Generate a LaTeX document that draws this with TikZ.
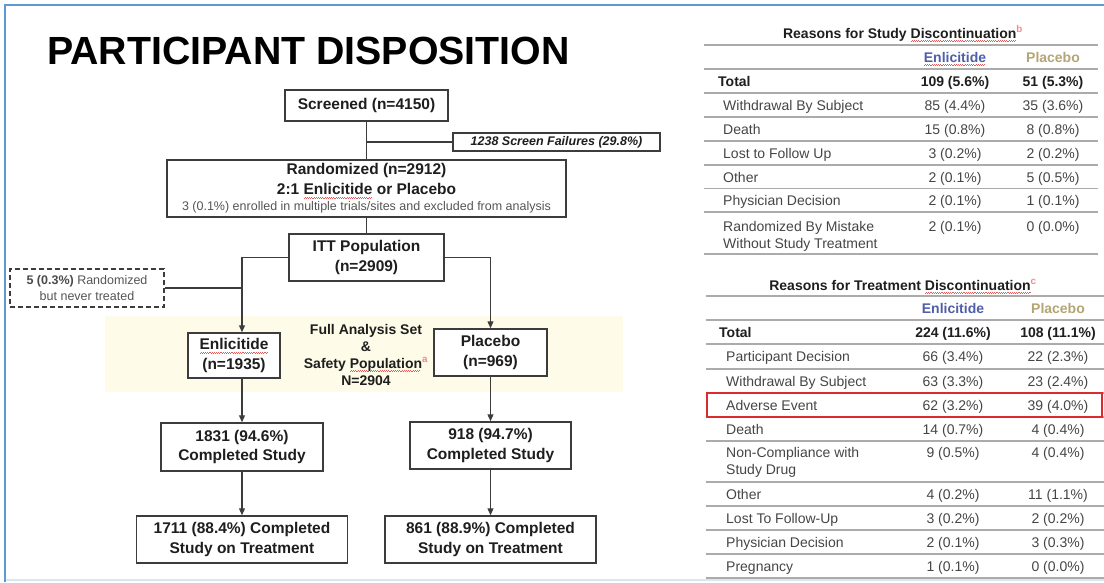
\documentclass[tikz,border=0pt]{standalone}
\usepackage{fontspec}
\setmainfont{Liberation Sans}
\usetikzlibrary{arrows.meta, positioning}

\definecolor{frameblue}{HTML}{5B9BD5}
\definecolor{framelight}{HTML}{D6E6F5}
\definecolor{ink}{HTML}{1E1E1E}
\definecolor{boxline}{HTML}{3C3C3C}
\definecolor{subgray}{HTML}{555555}
\definecolor{tabtext}{HTML}{454545}
\definecolor{rulegray}{HTML}{ABABAB}
\definecolor{bandyellow}{HTML}{FEFCE8}
\definecolor{enlblue}{HTML}{4F5EA8}
\definecolor{platan}{HTML}{B3A575}
\definecolor{alertred}{HTML}{DD2A2E}
\definecolor{squigred}{HTML}{E65A5A}

% red wavy spell-check underline (made of small rules)
\newbox\squigbox
\newcommand\squig[1]{\setbox\squigbox\hbox{#1}\rlap{\color{squigred}\leaders\hbox{\rule[-3.9pt]{1.1pt}{0.7pt}\rule[-3.1pt]{1.1pt}{0.7pt}}\hskip\wd\squigbox}\box\squigbox}

\tikzset{
    box/.style={rectangle, draw=boxline, line width=1.5pt, fill=white, inner sep=0pt, align=center, text=ink, font=\fontsize{15.5}{19.5}\selectfont\bfseries},
    failbox/.style={box, font=\fontsize{12.5}{14}\selectfont\bfseries\itshape},
    dashbox/.style={box, dash pattern=on 5pt off 3pt, text=subgray, font=\fontsize{12.5}{16}\selectfont},
    note/.style={align=center, inner sep=0pt, text=ink, font=\fontsize{14}{17}\selectfont\bfseries},
    arrow/.style={-{Triangle[length=7pt, width=6pt]}, line width=1.2pt, draw=boxline},
    line/.style={line width=1.2pt, draw=boxline},
    tabtitle/.style={anchor=base, inner sep=0pt, text=ink, font=\fontsize{14}{17}\selectfont\bfseries},
    tabhead/.style={anchor=base, inner sep=0pt, font=\fontsize{14}{17}\selectfont\bfseries},
    rowlabel/.style={anchor=base west, inner sep=0pt, align=left, text=tabtext, font=\fontsize{14}{17}\selectfont},
    cell/.style={anchor=base, inner sep=0pt, text=tabtext, font=\fontsize{14}{17}\selectfont},
    totalrow/.style={text=ink, font=\fontsize{14}{17}\selectfont\bfseries},
    rule/.style={draw=rulegray, line width=1.4pt},
    redbox/.style={draw=alertred, line width=2.4pt}
}

\begin{document}
\begin{tikzpicture}[x=1pt, y=-1pt]
    \useasboundingbox (0,0) rectangle (1104,582);
    % slide frame and highlight band
    \draw[framelight, line width=1.5pt] (5,580) -- (1104,580);
    \draw[frameblue, line width=2pt] (5,582) -- (5,5) -- (1104,5);
    \fill[bandyellow] (105,316) rectangle (623,392);

    % Title
    \node[anchor=base west, inner sep=0pt, text=black, font=\fontsize{39.3}{41}\selectfont\bfseries] (title) at (47,64) {PARTICIPANT DISPOSITION};

    % Flow chart (left)
    \node[box, minimum width=163pt, minimum height=31pt] (scr) at (366.5,105.5) {Screened (n=4150)};
    \node[failbox, minimum width=207pt, minimum height=18pt] (fail) at (556.5,142) {1238 Screen Failures (29.8\%)};
    \node[box, minimum width=399pt, minimum height=57pt] (rand) at (366.5,188.5)
    {Randomized (n=2912) \\ 2:1 \squig{Enlicitide} or Placebo \\[-3pt]
    {\fontsize{12.5}{14}\selectfont\mdseries\color{subgray}3 (0.1\%) enrolled in multiple trials/sites and excluded from analysis}};
    \node[box, minimum width=155pt, minimum height=47pt] (itt) at (366.5,257.5) {ITT Population \\ (n=2909)};
    \node[dashbox, minimum width=154pt, minimum height=38pt] (never) at (87,288) {{\bfseries\color{ink!80}5 (0.3\%)} Randomized \\ but never treated};
    \node[box, minimum width=92pt, minimum height=45pt] (enl) at (234,355.5) {\squig{Enlicitide} \\ (n=1935)};
    \node[box, minimum width=113pt, minimum height=47pt] (pla) at (490.5,352.5) {Placebo \\ (n=969)};
    \node[note] (fas) at (366,354.5) {Full Analysis Set \\ \& \\ Safety \squig{Population}\textsuperscript{\color{squigred!70}a} \\ N=2904};
    \node[box, minimum width=162pt, minimum height=48pt] (enlcomp) at (242,447) {1831 (94.6\%) \\ Completed Study};
    \node[box, minimum width=161pt, minimum height=47pt] (placomp) at (490.5,445.5) {918 (94.7\%) \\ Completed Study};
    \node[box, minimum width=211pt, minimum height=47pt] (enltrt) at (242,539.5) {1711 (88.4\%) Completed \\ Study on Treatment};
    \node[box, minimum width=211pt, minimum height=47pt] (platrt) at (490.5,539.5) {861 (88.9\%) Completed \\ Study on Treatment};

    \draw[line] (scr) -- (rand);
    \draw[line] (scr.south |- fail.west) -- (fail.west);
    \draw[line] (rand) -- (itt);
    \draw[arrow] (itt.west) -| ([xshift=8pt]enl.north);
    \draw[arrow] (itt.east) -| (pla.north);
    \draw[line] (never.east) -- ([xshift=8pt]enl.north |- never.east);
    \draw[arrow] ([xshift=8pt]enl.south) -- (enlcomp.north);
    \draw[arrow] (enlcomp) -- (enltrt);
    \draw[arrow] (pla) -- (placomp);
    \draw[arrow] (placomp) -- (platrt);

    % Table: study discontinuation (top right)
    \foreach \y in {45,69,93,117,141,165,188.5,212,254}
        \draw[rule] (704,\y) -- (1098,\y);
    \node[tabtitle] (t1title) at (903,38) {Reasons for Study \squig{Discontinuation}\textsuperscript{\color{squigred!70}b}};
    \node[tabhead, text=enlblue] (t1enl) at (955,62) {\squig{Enlicitide}};
    \node[tabhead, text=platan] (t1pla) at (1053,62) {Placebo};
    \node[rowlabel, totalrow] (t1tot) at (718,86) {Total};
    \node[cell, totalrow] (t1tote) at (955,86) {109 (5.6\%)};
    \node[cell, totalrow] (t1totp) at (1053,86) {51 (5.3\%)};
    \node[rowlabel] (t1wd) at (723,110) {Withdrawal By Subject};
    \node[cell] (t1wde) at (955,110) {85 (4.4\%)};
    \node[cell] (t1wdp) at (1053,110) {35 (3.6\%)};
    \node[rowlabel] (t1dth) at (723,134) {Death};
    \node[cell] (t1dthe) at (955,134) {15 (0.8\%)};
    \node[cell] (t1dthp) at (1053,134) {8 (0.8\%)};
    \node[rowlabel] (t1lost) at (723,158) {Lost to Follow Up};
    \node[cell] (t1loste) at (955,158) {3 (0.2\%)};
    \node[cell] (t1lostp) at (1053,158) {2 (0.2\%)};
    \node[rowlabel] (t1oth) at (723,182) {Other};
    \node[cell] (t1othe) at (955,182) {2 (0.1\%)};
    \node[cell] (t1othp) at (1053,182) {5 (0.5\%)};
    \node[rowlabel] (t1phy) at (723,205.5) {Physician Decision};
    \node[cell] (t1phye) at (955,205.5) {2 (0.1\%)};
    \node[cell] (t1phyp) at (1053,205.5) {1 (0.1\%)};
    \node[rowlabel] (t1mis) at (723,248) {Randomized By Mistake \\ Without Study Treatment};
    \node[cell] (t1mise) at (955,231) {2 (0.1\%)};
    \node[cell] (t1misp) at (1053,231) {0 (0.0\%)};

    % Table: treatment discontinuation (bottom right)
    \foreach \y in {296,320,344,369,393,417,441,482,506,530,554,578}
        \draw[rule] (706,\y) -- (1104,\y);
    \draw[redbox] (707,393) rectangle (1102,417);
    \node[tabtitle] (t2title) at (903,290) {Reasons for Treatment \squig{Discontinuation}\textsuperscript{\color{squigred!70}c}};
    \node[tabhead, text=enlblue] (t2enl) at (953,313) {Enlicitide};
    \node[tabhead, text=platan] (t2pla) at (1058,313) {Placebo};
    \node[rowlabel, totalrow] (t2tot) at (719,337) {Total};
    \node[cell, totalrow] (t2tote) at (953,337) {224 (11.6\%)};
    \node[cell, totalrow] (t2totp) at (1058,337) {108 (11.1\%)};
    \node[rowlabel] (t2par) at (726,361.5) {Participant Decision};
    \node[cell] (t2pare) at (953,361.5) {66 (3.4\%)};
    \node[cell] (t2parp) at (1058,361.5) {22 (2.3\%)};
    \node[rowlabel] (t2wd) at (726,386) {Withdrawal By Subject};
    \node[cell] (t2wde) at (953,386) {63 (3.3\%)};
    \node[cell] (t2wdp) at (1058,386) {23 (2.4\%)};
    \node[rowlabel] (t2ae) at (726,410) {Adverse Event};
    \node[cell] (t2aee) at (953,410) {62 (3.2\%)};
    \node[cell] (t2aep) at (1058,410) {39 (4.0\%)};
    \node[rowlabel] (t2dth) at (726,434) {Death};
    \node[cell] (t2dthe) at (953,434) {14 (0.7\%)};
    \node[cell] (t2dthp) at (1058,434) {4 (0.4\%)};
    \node[rowlabel] (t2nc) at (726,474) {Non-Compliance with \\ Study Drug};
    \node[cell] (t2nce) at (953,457) {9 (0.5\%)};
    \node[cell] (t2ncp) at (1058,457) {4 (0.4\%)};
    \node[rowlabel] (t2oth) at (726,499) {Other};
    \node[cell] (t2othe) at (953,499) {4 (0.2\%)};
    \node[cell] (t2othp) at (1058,499) {11 (1.1\%)};
    \node[rowlabel] (t2lost) at (726,523) {Lost To Follow-Up};
    \node[cell] (t2loste) at (953,523) {3 (0.2\%)};
    \node[cell] (t2lostp) at (1058,523) {2 (0.2\%)};
    \node[rowlabel] (t2phy) at (726,547) {Physician Decision};
    \node[cell] (t2phye) at (953,547) {2 (0.1\%)};
    \node[cell] (t2phyp) at (1058,547) {3 (0.3\%)};
    \node[rowlabel] (t2preg) at (726,571) {Pregnancy};
    \node[cell] (t2prege) at (953,571) {1 (0.1\%)};
    \node[cell] (t2pregp) at (1058,571) {0 (0.0\%)};
\end{tikzpicture}
\end{document}
